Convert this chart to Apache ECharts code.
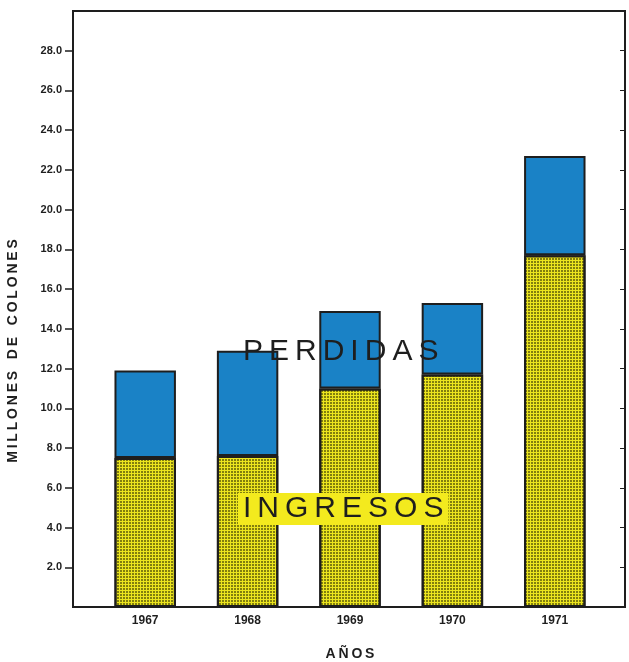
<!DOCTYPE html>
<html>
<head>
<meta charset="utf-8">
<script src="https://cdn.jsdelivr.net/npm/echarts@6/dist/echarts.min.js"></script>
<style>html,body{margin:0;padding:0;background:#fff;}#c{width:629px;height:662px;}</style>
</head>
<body>
<div id="c"></div>
<script>
const years = ['1967', '1968', '1969', '1970', '1971'];
const ingresos = [7.5, 7.6, 11.0, 11.7, 17.7];
const perdidas = [4.4, 5.3, 3.9, 3.6, 5.0];
const yTickMin = 0, yTickMax = 30, yTickStep = 2;

const ts = '\u2009';
const spaced = s => s.split('').join(ts);

const chart = echarts.init(document.getElementById('c'), null, {renderer: 'canvas'});
const font = '"Liberation Sans", Arial, sans-serif';
const ink = '#1e1e1e';

chart.setOption({
  backgroundColor: '#ffffff',
  animation: false,
  grid: [
    {left: 73, right: 4, top: 11, bottom: 55, outerBoundsMode: 'none', containLabel: false,
     show: true, borderColor: ink, borderWidth: 2, backgroundColor: 'transparent'},
    {left: 94, right: 23, top: 11, bottom: 55, outerBoundsMode: 'none', containLabel: false}
  ],
  xAxis: [
    {gridIndex: 0, type: 'value', min: 0, max: 1, show: false},
    {gridIndex: 1, type: 'category', data: years, boundaryGap: true,
     axisLine: {show: false}, axisTick: {show: false},
     axisLabel: {color: ink, fontFamily: font, fontSize: 12, fontWeight: 'bold', margin: 8},
     name: spaced('AÑOS'), nameLocation: 'middle', nameGap: 40,
     nameTextStyle: {color: ink, fontFamily: font, fontSize: 14, fontWeight: 'bold'}}
  ],
  yAxis: [
    {gridIndex: 0, type: 'value', position: 'left', min: yTickMin, max: yTickMax, interval: yTickStep,
     axisLine: {show: true, lineStyle: {color: ink, width: 2}},
     axisTick: {show: true, length: 8, lineStyle: {color: ink, width: 1.5}},
     splitLine: {show: false},
     axisLabel: {color: ink, fontFamily: font, fontSize: 11, fontWeight: 'bold', margin: 11,
                 showMinLabel: false, showMaxLabel: false,
                 formatter: v => v.toFixed(1)},
     name: 'M\u2009I\u2009L\u2009L\u2009O\u2009N\u2009E\u2009S   D\u2009E   C\u2009O\u2009L\u2009O\u2009N\u2009E\u2009S',
     nameLocation: 'middle', nameGap: 53, nameRotate: 90,
     nameTextStyle: {color: ink, fontFamily: font, fontSize: 14, fontWeight: 'bold', padding: [0, 84, 0, 0]}},
    {gridIndex: 0, type: 'value', position: 'right', min: yTickMin, max: yTickMax, interval: yTickStep,
     axisLine: {show: true, lineStyle: {color: ink, width: 2}},
     axisTick: {show: true, inside: true, length: 5, lineStyle: {color: ink, width: 1}},
     axisLabel: {show: false}, splitLine: {show: false}},
    {gridIndex: 1, type: 'value', min: yTickMin, max: yTickMax, show: false}
  ],
  series: [
    {name: 'INGRESOS', type: 'bar', stack: 'total', xAxisIndex: 1, yAxisIndex: 2,
     data: ingresos, barWidth: '60%',
     itemStyle: {color: '#ece51e', borderColor: ink, borderWidth: 2,
       decal: {symbol: 'circle', symbolSize: 1, color: 'rgba(35,35,0,0.7)',
               dashArrayX: [[2, 1]], dashArrayY: [2, 1], rotation: 0}}},
    {name: 'PERDIDAS', type: 'bar', stack: 'total', xAxisIndex: 1, yAxisIndex: 2,
     data: perdidas, barWidth: '60%',
     itemStyle: {color: '#1a82c6', borderColor: ink, borderWidth: 2}}
  ],
  graphic: [
    {type: 'text', left: 243, top: 337, z: 100,
     style: {text: spaced('PERDIDAS'), fill: ink, font: '30px ' + font}},
    {type: 'text', left: 238, top: 493, z: 100,
     style: {text: spaced('INGRESOS'), fill: ink, font: '30px ' + font,
             backgroundColor: '#f3ea1e', padding: [1, 5, 1, 5]}}
  ]
});
</script>
</body>
</html>
